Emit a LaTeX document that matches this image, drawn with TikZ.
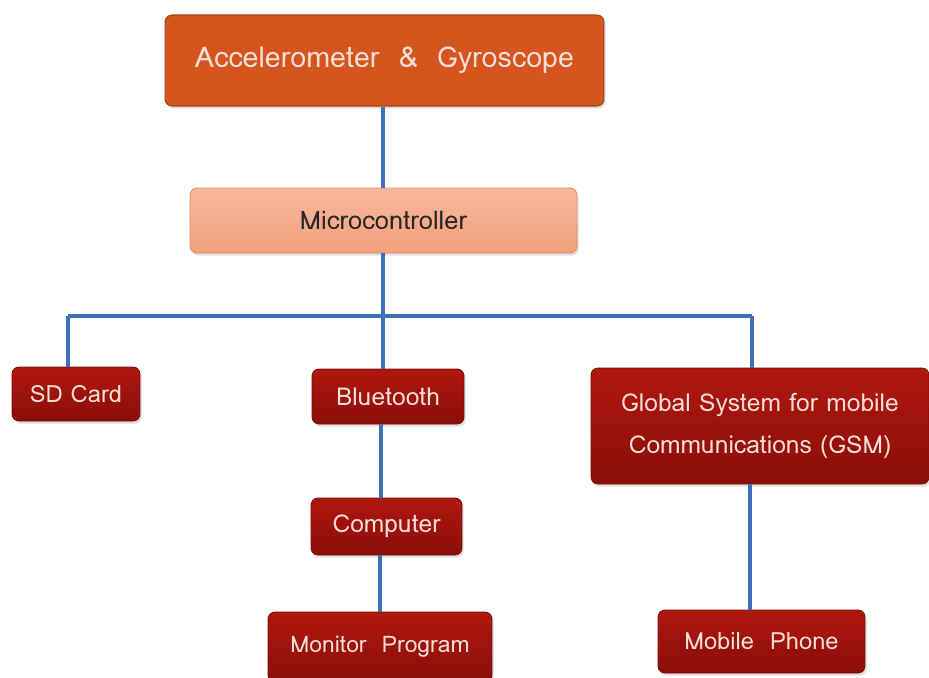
\documentclass[tikz,border=0pt]{standalone}
\usepackage{fontspec}
\newfontfamily\lomafont[Script=Thai]{Loma}
\usetikzlibrary{shadows}
\definecolor{topfill}{HTML}{D5551E}
\definecolor{topedge}{HTML}{A63E12}
\definecolor{mcufill}{HTML}{F3A07C}
\definecolor{mcuedge}{HTML}{E08A62}
\definecolor{redtop}{HTML}{B0180F}
\definecolor{redbot}{HTML}{8A0E0A}
\definecolor{rededge}{HTML}{7A0C08}
\definecolor{wire}{HTML}{3D70B4}
\definecolor{pinktext}{HTML}{F6DDD6}
\tikzset{
	box/.style={rounded corners=4pt, inner sep=0pt, align=center, drop shadow={opacity=0.25, shadow xshift=1pt, shadow yshift=-1.5pt}},
	topbox/.style={box, fill=topfill, draw=topedge, line width=0.6pt, text=pinktext},
	mcubox/.style={box, top color=mcufill!75!white, bottom color=mcufill, draw=mcuedge, line width=0.5pt, text=black!85},
	redbox/.style={box, top color=redtop, bottom color=redbot, draw=rededge, line width=0.5pt, text=pinktext},
	wire/.style={draw=wire, line width=1.8pt}
}
\newcommand\boxfont[1]{\lomafont\fontsize{#1}{24}\selectfont}
\begin{document}
\begin{tikzpicture}[x=0.02cm, y=-0.02cm]
		%%%%% START %%%%%
		\useasboundingbox (0, 0) rectangle (929, 677);
		
		\coordinate (busL) at (68, 316);
		\coordinate (busM) at (383, 316);
		\coordinate (busR) at (752, 316);
		
		\node[topbox, minimum width=8.78cm, minimum height=1.82cm, font=\boxfont{16.3}] (accel) at (384.5, 60.5) {Accelerometer~~\&~~Gyroscope};
		\node[mcubox, minimum width=7.74cm, minimum height=1.3cm, font=\boxfont{14.5}] (mcu) at (383.5, 220.5) {Microcontroller};
		
		\node[redbox, minimum width=2.56cm, minimum height=1.08cm, font=\boxfont{13.5}] (sd) at (76, 394) {SD Card};
		\node[redbox, minimum width=3.04cm, minimum height=1.1cm, font=\boxfont{14}] (bt) at (388, 396.5) {Bluetooth};
		\node[redbox, minimum width=6.76cm, minimum height=2.32cm, font=\boxfont{14}] (gsm) at (760, 426) {Global System for mobile\\Communications (GSM)};
		
		\node[redbox, minimum width=3.02cm, minimum height=1.14cm, font=\boxfont{14}] (pc) at (386.5, 526.5) {Computer};
		\node[redbox, minimum width=4.48cm, minimum height=1.4cm, font=\boxfont{13}] (monitor) at (380, 647) {Monitor~~Program};
		\node[redbox, minimum width=4.14cm, minimum height=1.26cm, font=\boxfont{13.5}] (phone) at (761.5, 641.5) {Mobile~~Phone};
		
		% blue connectors
		\draw[wire] (accel.south -| busM) -- (mcu.north -| busM);
		\draw[wire] (mcu.south -| busM) -- (busM);
		\draw[wire] (busL) -- (busR);
		\draw[wire] (busL) -- (sd.north -| busL);
		\draw[wire] (busM) -- (bt.north -| busM);
		\draw[wire] (busR) -- (gsm.north -| busR);
		\coordinate (btx) at (381, 0);
		\draw[wire] (bt.south -| btx) -- (pc.north -| btx);
		\coordinate (pcx) at (380, 0);
		\draw[wire] (pc.south -| pcx) -- (monitor.north -| pcx);
		\coordinate (gsmx) at (750, 0);
		\draw[wire] (gsm.south -| gsmx) -- (phone.north -| gsmx);
		
		%%%%% END %%%%%
\end{tikzpicture}
\end{document}
